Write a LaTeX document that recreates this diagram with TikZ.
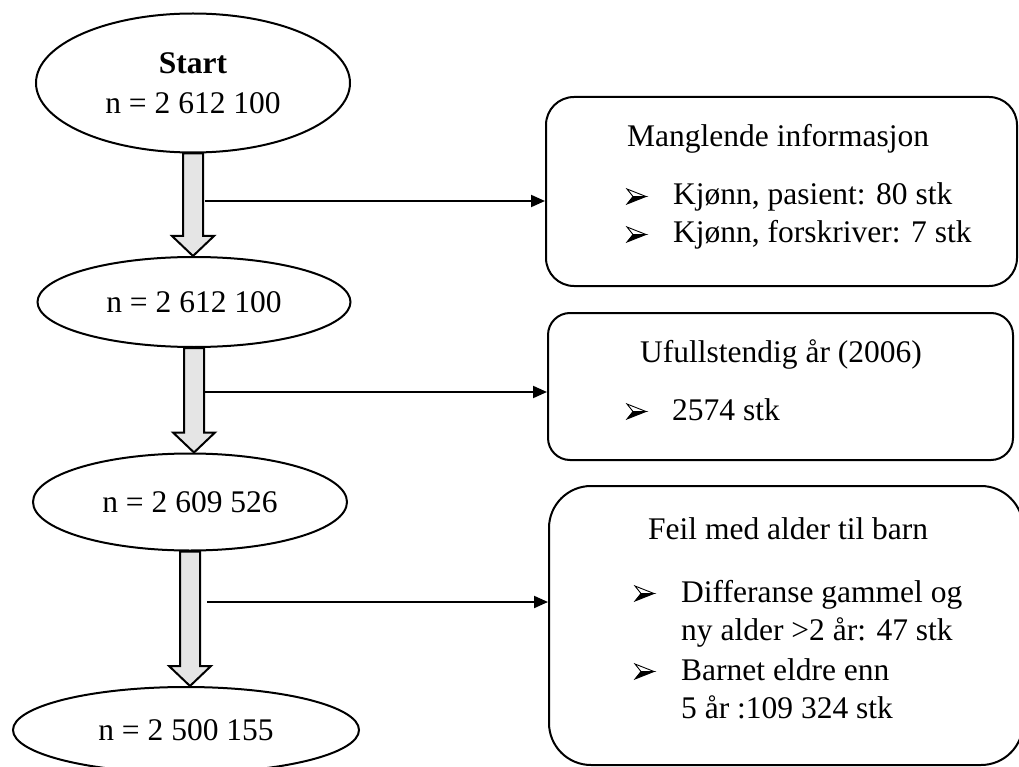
\documentclass[tikz,border=0pt]{standalone}
\usepackage{fontspec}
\setmainfont{Liberation Serif}
\usetikzlibrary{shapes.geometric,arrows.meta,calc}
\newcommand\myblockarrow[2]{%
  \draw[blockarrow] let \p1=(#1.south), \p2=(#2.north) in
    (\x1-10pt,\y1) -- (\x1-10pt,\y2+20pt) -- (\x1-21pt,\y2+20pt) -- (\x1,\y2)
    -- (\x1+21pt,\y2+20pt) -- (\x1+10pt,\y2+20pt) -- (\x1+10pt,\y1) -- cycle;}
\begin{document}
\begin{tikzpicture}[x=1pt,y=-1pt,
  font=\fontsize{31.5}{38}\selectfont,
  oval/.style={ellipse,draw,line width=2pt,inner sep=0pt,align=center},
  infobox/.style={rectangle,draw,line width=2pt,inner sep=0pt},
  blockarrow/.style={draw,line width=2pt,fill=gray!20,line join=miter},
  conn/.style={line width=2pt,-{Triangle[length=14pt,width=12pt]}},
  txt/.style={anchor=base west,inner sep=0pt},
  arrowbullet/.pic={
    \filldraw[fill=white,draw=black,line width=0.9pt,line join=miter]
      (0,-15) -- (19,-7.5) -- (6,-7.5) -- cycle;
    \filldraw[fill=black,draw=black,line width=0.9pt,line join=miter]
      (6,-7.5) -- (19,-7.5) -- (0,0) -- cycle;}]
\useasboundingbox (0,0) rectangle (1019,767);
\clip (0,0) rectangle (1019,767);
% ovals
\node[oval,minimum width=314pt,minimum height=139pt] (e1) at (193,83)
  {\textbf{Start}\\[2pt]n = 2 612 100};
\node[oval,minimum width=313pt,minimum height=90pt] (e2) at (194,302) {n = 2 612 100};
\node[oval,minimum width=314pt,minimum height=97pt] (e3) at (190,502) {n = 2 609 526};
\node[oval,minimum width=346pt,minimum height=86pt] (e4) at (186,730) {n = 2 500 155};
% block arrows
\myblockarrow{e1}{e2}
\myblockarrow{e2}{e3}
\myblockarrow{e3}{e4}
% boxes
\node[infobox,rounded corners=28pt,minimum width=471pt,minimum height=189pt] (b1) at (781.5,191.5) {};
\node[infobox,rounded corners=22pt,minimum width=465pt,minimum height=147pt] (b2) at (780.5,386.5) {};
\node[infobox,rounded corners=42pt,minimum width=474pt,minimum height=279pt] (b3) at (786,625.5) {};
% box texts
\node[txt] (t1) at (627,147) {Manglende informasjon};
\pic at (627,204) {arrowbullet};
\node[txt] (t1b) at (673,205) {Kjønn, pasient: 80 stk};
\pic at (627,242) {arrowbullet};
\node[txt] (t1d) at (673,243) {Kjønn, forskriver: 7 stk};
\node[txt] (t2) at (640,362) {Ufullstendig år (2006)};
\pic at (627,419) {arrowbullet};
\node[txt] (t2b) at (672,420) {2574 stk};
\node[txt] (t3) at (648,539) {Feil med alder til barn};
\pic at (635,601) {arrowbullet};
\node[txt] (t3b) at (681,602) {Differanse gammel og};
\node[txt] (t3c) at (681,640) {ny alder >2 år: 47 stk};
\pic at (635,679) {arrowbullet};
\node[txt] (t3e) at (681,680) {Barnet eldre enn};
\node[txt] (t3f) at (681,718) {5 år :109 324 stk};
% connectors
\coordinate (c1) at (205,201);
\coordinate (c2) at (205,392);
\coordinate (c3) at (207,602);
\draw[conn] (c1) -- (c1 -| b1.west);
\draw[conn] (c2) -- (c2 -| b2.west);
\draw[conn] (c3) -- (c3 -| b3.west);
\end{tikzpicture}
\end{document}
